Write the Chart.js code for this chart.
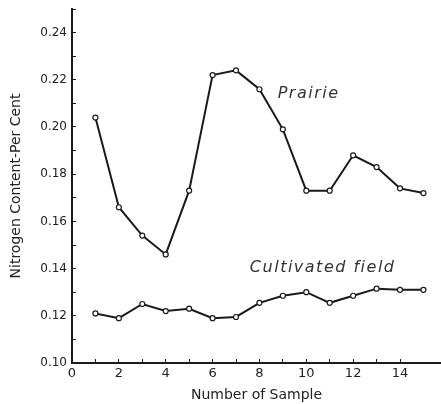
<!DOCTYPE html>
<html>
<head>
<meta charset="utf-8">
<script src="https://cdn.jsdelivr.net/npm/chart.js@4.4.1/dist/chart.umd.min.js"></script>
<style>
  html, body { margin: 0; padding: 0; background: #fff; }
  #wrap { width: 441px; height: 404px; }
</style>
</head>
<body>
<div id="wrap"><canvas id="nitrogenChart"></canvas></div>
<script>
// sample numbers 1..15
const samples = [1, 2, 3, 4, 5, 6, 7, 8, 9, 10, 11, 12, 13, 14, 15];
const prairie = [0.204, 0.166, 0.154, 0.146, 0.173, 0.222, 0.224, 0.216, 0.199, 0.173, 0.173, 0.188, 0.183, 0.174, 0.172];
const cultivated = [0.121, 0.119, 0.125, 0.122, 0.123, 0.119, 0.1195, 0.1255, 0.1285, 0.130, 0.1255, 0.1285, 0.1315, 0.131, 0.131];

// curve labels, in data units
const curveLabels = [
    { text: 'Prairie', x: 10.1, y: 0.2142 },
    { text: 'Cultivated field', x: 10.7, y: 0.1404 }
];

const ink = '#1a1a1a';
const font = "'DejaVu Sans', sans-serif";

function toPoints(values) {
    return samples.map((s, i) => ({ x: s, y: values[i] }));
}

const labelPlugin = {
    id: 'curveLabels',
    afterDatasetsDraw(chart) {
        const { ctx, scales } = chart;
        ctx.save();
        ctx.fillStyle = '#333';
        ctx.font = "italic 16px " + font;
        ctx.letterSpacing = '1.5px';
        ctx.textAlign = 'center';
        ctx.textBaseline = 'middle';
        curveLabels.forEach(l => {
            ctx.fillText(l.text, scales.x.getPixelForValue(l.x), scales.y.getPixelForValue(l.y));
        });
        ctx.restore();
    }
};

function makeDataset(label, values) {
    return {
        label: label,
        data: toPoints(values),
        borderColor: ink,
        borderWidth: 2,
        pointRadius: 2.5,
        pointBorderWidth: 1.2,
        pointBackgroundColor: '#fff',
        pointBorderColor: ink,
        tension: 0
    };
}

const ctx = document.getElementById('nitrogenChart').getContext('2d');
new Chart(ctx, {
    type: 'line',
    data: {
        datasets: [
            makeDataset('Prairie', prairie),
            makeDataset('Cultivated field', cultivated)
        ]
    },
    options: {
        responsive: true,
        maintainAspectRatio: false,
        animation: false,
        layout: { autoPadding: false, padding: { top: 9, right: 0, left: 0, bottom: 0 } },
        plugins: {
            legend: { display: false },
            tooltip: { enabled: false }
        },
        scales: {
            x: {
                type: 'linear',
                min: 0,
                max: 15.75,
                border: { color: ink, width: 2 },
                // negative tick length puts the marks inside the plot
                grid: { drawOnChartArea: false, drawTicks: true, tickLength: -4, color: ink, lineWidth: 1 },
                ticks: {
                    stepSize: 1,
                    autoSkip: false,
                    maxRotation: 0,
                    color: '#222',
                    font: { family: font, size: 13 },
                    padding: 7,
                    callback: v => (v % 2 === 0 && v <= 14) ? String(v) : ''
                },
                title: {
                    display: true,
                    text: 'Number of Sample',
                    color: '#222',
                    font: { family: font, size: 14 },
                    padding: { top: 0, bottom: 0 }
                },
                afterFit(scale) {
                    scale.height = 41;
                    scale.paddingLeft = 0;
                    scale.paddingRight = 0;
                }
            },
            y: {
                min: 0.10,
                max: 0.25,
                border: { color: ink, width: 2 },
                grid: { drawOnChartArea: false, drawTicks: true, tickLength: -4, color: ink, lineWidth: 1 },
                ticks: {
                    stepSize: 0.01,
                    autoSkip: false,
                    color: '#222',
                    font: { family: font, size: 12 },
                    padding: 9,
                    callback: v => {
                        const h = Math.round(v * 100);
                        return (h % 2 === 0 && h <= 24) ? (h / 100).toFixed(2) : '';
                    }
                },
                title: {
                    display: true,
                    text: 'Nitrogen Content-Per Cent',
                    color: '#222',
                    font: { family: font, size: 14 },
                    padding: { top: 8, bottom: 0 }
                },
                afterFit(scale) {
                    scale.width = 72;
                    scale.paddingTop = 0;
                    scale.paddingBottom = 0;
                }
            }
        }
    },
    plugins: [labelPlugin]
});
</script>
</body>
</html>
